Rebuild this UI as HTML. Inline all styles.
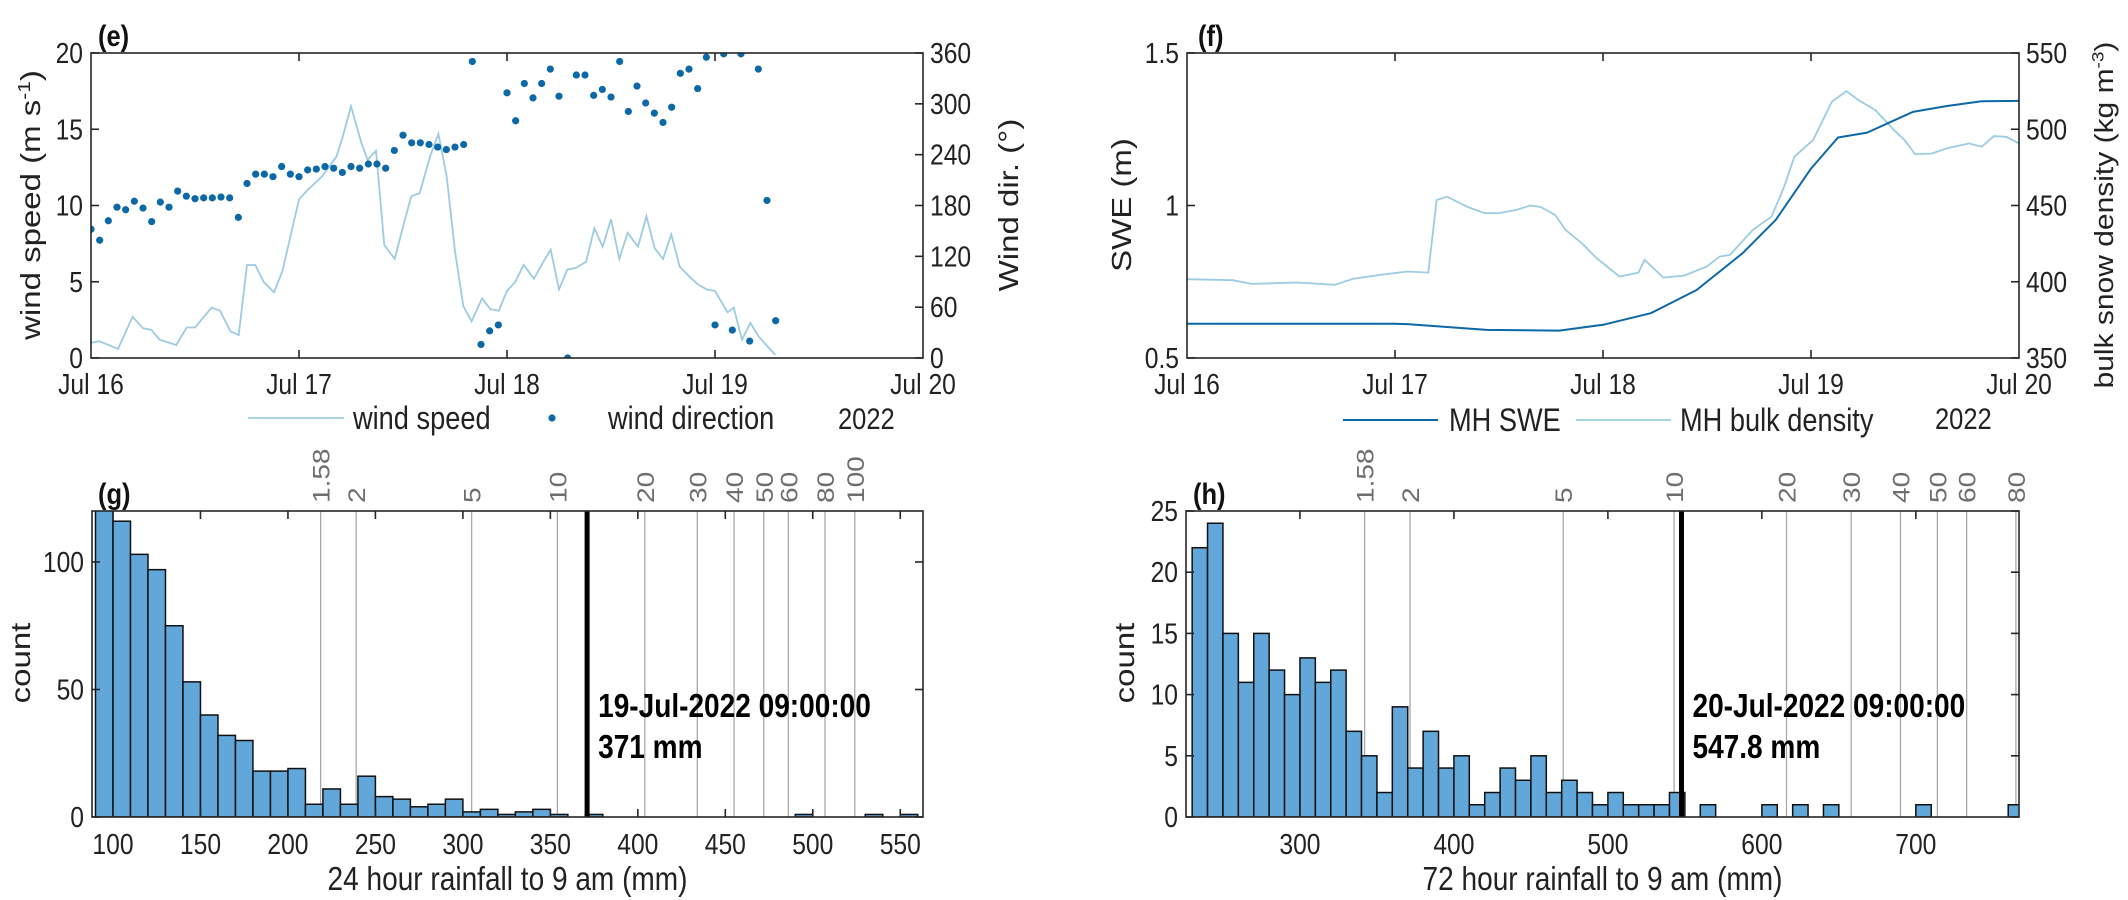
<!DOCTYPE html>
<html><head><meta charset="utf-8">
<style>
html,body{margin:0;padding:0;background:#fff;}
svg{display:block;font-family:"Liberation Sans",Arial,sans-serif;}
</style></head>
<body>
<svg id="fig" width="2128" height="900" viewBox="0 0 2128 900" xmlns="http://www.w3.org/2000/svg">
<defs>
<clipPath id="clipE"><rect x="91" y="53" width="832" height="305"/></clipPath>
<clipPath id="clipF"><rect x="1187" y="53" width="832" height="305"/></clipPath>
<clipPath id="clipG"><rect x="92" y="511" width="831" height="306"/></clipPath>
<clipPath id="clipH"><rect x="1186" y="511" width="833" height="306"/></clipPath>
</defs>
</svg>
<script>
// ---------- data (e) ----------
const windDays = [16.00,16.04,16.13,16.2,16.25,16.29,16.33,16.41,16.46,16.5,16.58,16.62,16.67,16.71,16.75,16.79,16.83,16.88,16.92,17.0,17.04,17.11,17.18,17.21,17.25,17.3,17.33,17.37,17.41,17.46,17.5,17.54,17.58,17.63,17.67,17.71,17.75,17.79,17.83,17.88,17.92,17.96,18.0,18.04,18.08,18.13,18.17,18.21,18.25,18.29,18.33,18.38,18.42,18.46,18.5,18.54,18.58,18.63,18.67,18.71,18.75,18.79,18.83,18.88,18.92,18.96,19.0,19.06,19.09,19.13,19.17,19.21,19.29];
const windSpeed = [1.0,1.1,0.6,2.7,1.95,1.85,1.2,0.85,2.0,2.0,3.3,3.1,1.75,1.5,6.1,6.1,5.0,4.3,5.7,10.4,11.0,11.9,13.2,14.5,16.5,14.1,13.0,13.6,7.4,6.5,8.6,10.6,10.8,13.2,14.7,11.9,7.0,3.4,2.4,3.9,3.2,3.1,4.4,5.0,6.1,5.2,6.2,7.1,4.5,5.8,5.9,6.3,8.5,7.3,9.1,6.5,8.2,7.3,9.3,7.2,6.5,8.1,6.0,5.3,4.8,4.5,4.4,3.0,3.3,1.2,2.3,1.4,0.2];
const windDir = [152,139,162,178,175,185,177,161,184,178,197,191,188,189,189,190,189,166,206,217,217,214,226,217,214,222,223,226,224,219,226,224,229,229,224,245,263,254,254,252,249,246,249,252,350,16,32,39,313,280,324,307,324,341,309,0,334,334,310,317,308,350,291,321,301,289,278,296,336,341,318,355,39,359,33,359,20,341,186,44];
const eTickLabels = ["Jul 16","Jul 17","Jul 18","Jul 19","Jul 20"];
const eLeftTicks = [0,5,10,15,20];
const eRightTicks = [0,60,120,180,240,300,360];
// ---------- data (f) ----------
const sweDays = [16.0,16.5,17.0,17.06,17.44,17.79,18.0,18.23,18.45,18.67,18.83,19.0,19.13,19.27,19.49,19.65,19.82,20.0];
const sweVals = [0.612,0.612,0.612,0.611,0.592,0.590,0.609,0.647,0.723,0.843,0.952,1.121,1.223,1.239,1.307,1.326,1.342,1.343];
const denDays = [16.0,16.22,16.31,16.53,16.71,16.8,16.93,17.06,17.16,17.2,17.25,17.35,17.43,17.5,17.58,17.65,17.7,17.77,17.82,17.9,17.97,18.08,18.17,18.2,18.29,18.39,18.5,18.56,18.61,18.72,18.81,18.87,18.92,19.01,19.1,19.17,19.23,19.31,19.4,19.45,19.5,19.58,19.65,19.76,19.82,19.88,19.94,20.0];
const denVals = [401.7,401,398.6,399.5,398,402,404.5,406.7,406,453.6,455.8,449,445,445,447,450,449,443.8,434,425,415.4,403.4,406,414.3,402.8,404,410,416.5,417.6,434,442.7,462,482,492.9,518,525,519,512.5,499.4,492.9,483.7,484,487.4,490.7,488.5,495.5,495,490.7];
const fLeftTicks = [0.5,1,1.5];
const fRightTicks = [350,400,450,500,550];
// ---------- data (g) ----------
const gBinStart = 90;
const gBinWidth = 10;
const gCounts = [122,116,103,97,75,53,40,32,30,18,18,19,5,11,5,16,8,7,4,5,7,2,3,1,2,3,1,0,1,0,0,0,0,0,0,0,0,0,0,0,1,0,0,0,1,0,1];
const gXTicks = [100,150,200,250,300,350,400,450,500,550];
const gYTicks = [0,50,100];
const gRPLabels = ["1.58","2","5","10","20","30","40","50","60","80","100"];
const gRPValues = [218.7,239,305,354,404,434,455,472,486,507,524];
const gEventValue = 371;
// ---------- data (h) ----------
const hBinStart = 230;
const hBinWidth = 10;
const hCounts = [22,24,15,11,15,12,10,13,11,12,7,5,2,9,4,7,4,5,1,2,4,3,5,2,3,2,1,2,1,1,1,2,0,1,0,0,0,1,0,1,0,1,0,0,0,0,0,1,0,0,0,0,0,1];
const hXTicks = [300,400,500,600,700];
const hYTicks = [0,5,10,15,20,25];
const hRPLabels = ["1.58","2","5","10","20","30","40","50","60","80"];
const hRPValues = [342,371.5,471,543,616,658,690,714,733,765];
const hEventValue = 547.8;

const NS = "http://www.w3.org/2000/svg";
const svg = document.getElementById("fig");
function lin(d0,d1,r0,r1){return v=>r0+(v-d0)/(d1-d0)*(r1-r0);}
function mk(tag, attrs, parent){const e=document.createElementNS(NS,tag);for(const k in attrs)e.setAttribute(k,attrs[k]);(parent||svg).appendChild(e);return e;}
const SQ = 0.85;
function txt(s, x, y, size, anchor, weight, fill){
  const e = mk("text",{transform:"translate("+x+","+y+") scale("+SQ+",1)","font-size":size,"text-anchor":anchor||"start","font-weight":weight||"normal",fill:fill||"#222"});
  e.textContent = s;
  return e;
}
function rtxt(s, x, y, size, anchor, fill){
  const e = mk("text",{transform:"translate("+x+","+y+") rotate(-90) scale(1,"+SQ+")","font-size":size,"text-anchor":anchor||"start",fill:fill||"#222"});
  e.textContent = s;
  return e;
}

const AX = "#262626";
const TF = 29;
const LF = 33;

function frame(name, L,T,R,B){
  const r = mk("rect",{x:L,y:T,width:R-L,height:B-T,fill:"none",stroke:AX,"stroke-width":1.6});
  
  
}
function xTick(name, x, T, B){
  const t1 = mk("line",{x1:x,x2:x,y1:B,y2:B-8,stroke:AX,"stroke-width":1.6});
  
  
  const t2 = mk("line",{x1:x,x2:x,y1:T,y2:T+8,stroke:AX,"stroke-width":1.6});
  
  
}
function yTick(name, y, x, dir){
  const t = mk("line",{x1:x,x2:x+dir*8,y1:y,y2:y,stroke:AX,"stroke-width":1.6});
  
  
}

// ================= PANEL E =================
(function(){
  const L=91,R=923,T=53,B=358;
  const x = lin(16,20,L,R), ys = lin(0,20,B,T), yd = lin(0,360,B,T);
  const g = mk("g",{"clip-path":"url(#clipE)"});
  
  
  const pts = windDays.map((d,i)=>x(d).toFixed(1)+","+ys(windSpeed[i]).toFixed(1)).join(" ");
  const line = mk("polyline",{points:pts,fill:"none",stroke:"#9ccbe2","stroke-width":1.8},g);
  
  
  windDir.forEach((v,i)=>{
    const c = mk("circle",{cx:x(16+i/24),cy:yd(v),r:3.6,fill:"#0c68a6"},g);
    
    
  });
  frame('panel-e-axes',L,T,R,B);
  eTickLabels.forEach((s,i)=>{
    const xx = x(16+i);
    if(i>0&&i<4) xTick('x-tick', xx, T, B);
    const t = txt(s,xx,394,TF,"middle");
    
    
  });
  eLeftTicks.forEach(v=>{
    yTick('y-tick-left', ys(v), L, 1);
    const t = txt(String(v),L-8,ys(v)+10,TF,"end");
    
    
  });
  eRightTicks.forEach(v=>{
    yTick('y-tick-right', yd(v), R, -1);
    const t = txt(String(v),R+7,yd(v)+10,TF,"start");
    
    
  });
  const yl = mk("text",{transform:"translate(40,205) rotate(-90) scale(1,"+SQ+")","font-size":LF,"text-anchor":"middle",fill:"#222"});
  yl.innerHTML = 'wind speed (m s<tspan dy="-12" font-size="21">-1</tspan><tspan dy="12">)</tspan>';
  
  
  const yr = rtxt("Wind dir. (°)",1018,205,LF,"middle");
  
  
  const ti = txt("(e)",98,46,30,"start","bold","#111");
  
  
  const l1 = mk("line",{x1:248,x2:344,y1:418,y2:418,stroke:"#9ccbe2","stroke-width":1.8});
  
  
  const lt1 = txt("wind speed",353,429,32,"start");
  
  
  const ld = mk("circle",{cx:552,cy:418,r:3.6,fill:"#0c68a6"});
  
  
  const lt2 = txt("wind direction",608,429,32,"start");
  
  
  const yr2 = txt("2022",838,429,30,"start");
  
  
})();

// ================= PANEL F =================
(function(){
  const L=1187,R=2019,T=53,B=358;
  const x = lin(16,20,L,R), ys = lin(0.5,1.5,B,T), yd = lin(350,550,B,T);
  const g = mk("g",{"clip-path":"url(#clipF)"});
  
  
  const dp = denDays.map((d,i)=>x(d).toFixed(1)+","+yd(denVals[i]).toFixed(1)).join(" ");
  const dl = mk("polyline",{points:dp,fill:"none",stroke:"#9ccbe2","stroke-width":1.8},g);
  
  
  const sp = sweDays.map((d,i)=>x(d).toFixed(1)+","+ys(sweVals[i]).toFixed(1)).join(" ");
  const sl = mk("polyline",{points:sp,fill:"none",stroke:"#0c68a6","stroke-width":2,"stroke-linejoin":"round"},g);
  
  
  frame('panel-f-axes',L,T,R,B);
  eTickLabels.forEach((s,i)=>{
    const xx = x(16+i);
    if(i>0&&i<4) xTick('x-tick', xx, T, B);
    const t = txt(s,xx,394,TF,"middle");
    
    
  });
  fLeftTicks.forEach(v=>{
    yTick('y-tick-left', ys(v), L, 1);
    const t = txt(String(v),L-8,ys(v)+10,TF,"end");
    
    
  });
  fRightTicks.forEach(v=>{
    yTick('y-tick-right', yd(v), R, -1);
    const t = txt(String(v),R+7,yd(v)+10,TF,"start");
    
    
  });
  const yl = rtxt("SWE (m)",1131,205,LF,"middle");
  
  
  const yr = mk("text",{transform:"translate(2113,215) rotate(-90) scale(1,"+SQ+")","font-size":30,"text-anchor":"middle",fill:"#222"});
  yr.innerHTML = 'bulk snow density (kg m<tspan dy="-11" font-size="19">-3</tspan><tspan dy="11">)</tspan>';
  
  
  const ti = txt("(f)",1198,46,30,"start","bold","#111");
  
  
  const l1 = mk("line",{x1:1343,x2:1438,y1:420,y2:420,stroke:"#0c68a6","stroke-width":2});
  
  
  const t1 = txt("MH SWE",1449,431,32,"start");
  
  
  const l2 = mk("line",{x1:1576,x2:1671,y1:420,y2:420,stroke:"#9ccbe2","stroke-width":1.8});
  
  
  const t2 = txt("MH bulk density",1680,431,32,"start");
  
  
  const y2 = txt("2022",1935,429,30,"start");
  
  
})();

// ================= HISTOGRAMS =================
function hist(p){
  const {L,R,T,B,x,y,counts,binStart,binWidth,xTicks,yTicks,rpLabels,rpValues,ev,evText1,evText2,xlabel,clip,title,titleX,countX} = p;
  const g = mk("g",{"clip-path":"url("+clip+")"});
  
  
  rpValues.forEach((v,i)=>{
    const l = mk("line",{x1:x(v),x2:x(v),y1:T,y2:B,stroke:"#a8a8a8","stroke-width":1.3},g);
    
    
  });
  counts.forEach((c,i)=>{
    const x0 = x(binStart+i*binWidth), x1 = x(binStart+(i+1)*binWidth);
    const r = mk("rect",{x:x0,y:y(c),width:x1-x0,height:B-y(c),fill:"#62a7da",stroke:"#111","stroke-width":1.5},g);
    
    
  });
  const ev1 = mk("line",{x1:x(ev),x2:x(ev),y1:T,y2:B,stroke:"#000","stroke-width":5},g);
  
  
  frame('histogram-axes',L,T,R,B);
  xTicks.forEach(v=>{
    xTick('x-tick', x(v), T, B);
    const t = txt(String(v),x(v),854,TF,"middle");
    
    
  });
  yTicks.forEach(v=>{
    yTick('y-tick-left', y(v), L, 1);
    yTick('y-tick-right', y(v), R, -1);
    const t = txt(String(v),L-8,y(v)+10,TF,"end");
    
    
  });
  rpLabels.forEach((s,i)=>{
    const t = rtxt(s,x(rpValues[i])+9,503,28,"start","#6e6e6e");
    
    
  });
  const a1 = txt(evText1,x(ev)+11,717,33,"start","bold","#000");
  
  
  const a2 = txt(evText2,x(ev)+11,758,33,"start","bold","#000");
  
  
  const xl = txt(xlabel,(L+R)/2,890,LF,"middle");
  
  
  const yl = rtxt("count",countX,663,LF,"middle");
  
  
  const ti = txt(title,titleX,504,30,"start","bold","#111");
  
  
}
hist({L:92,R:923,T:511,B:817,x:lin(88,563,92,923),y:lin(0,120,817,511),counts:gCounts,binStart:gBinStart,binWidth:gBinWidth,
  xTicks:gXTicks,yTicks:gYTicks,rpLabels:gRPLabels,rpValues:gRPValues,ev:gEventValue,
  evText1:"19-Jul-2022 09:00:00",evText2:"371 mm",xlabel:"24 hour rainfall to 9 am (mm)",clip:"#clipG",title:"(g)",titleX:98,countX:30});
hist({L:1186,R:2019,T:511,B:817,x:lin(226,767,1186,2019),y:lin(0,25,817,511),counts:hCounts,binStart:hBinStart,binWidth:hBinWidth,
  xTicks:hXTicks,yTicks:hYTicks,rpLabels:hRPLabels,rpValues:hRPValues,ev:hEventValue,
  evText1:"20-Jul-2022 09:00:00",evText2:"547.8 mm",xlabel:"72 hour rainfall to 9 am (mm)",clip:"#clipH",title:"(h)",titleX:1193,countX:1134});
</script>
</body></html>
